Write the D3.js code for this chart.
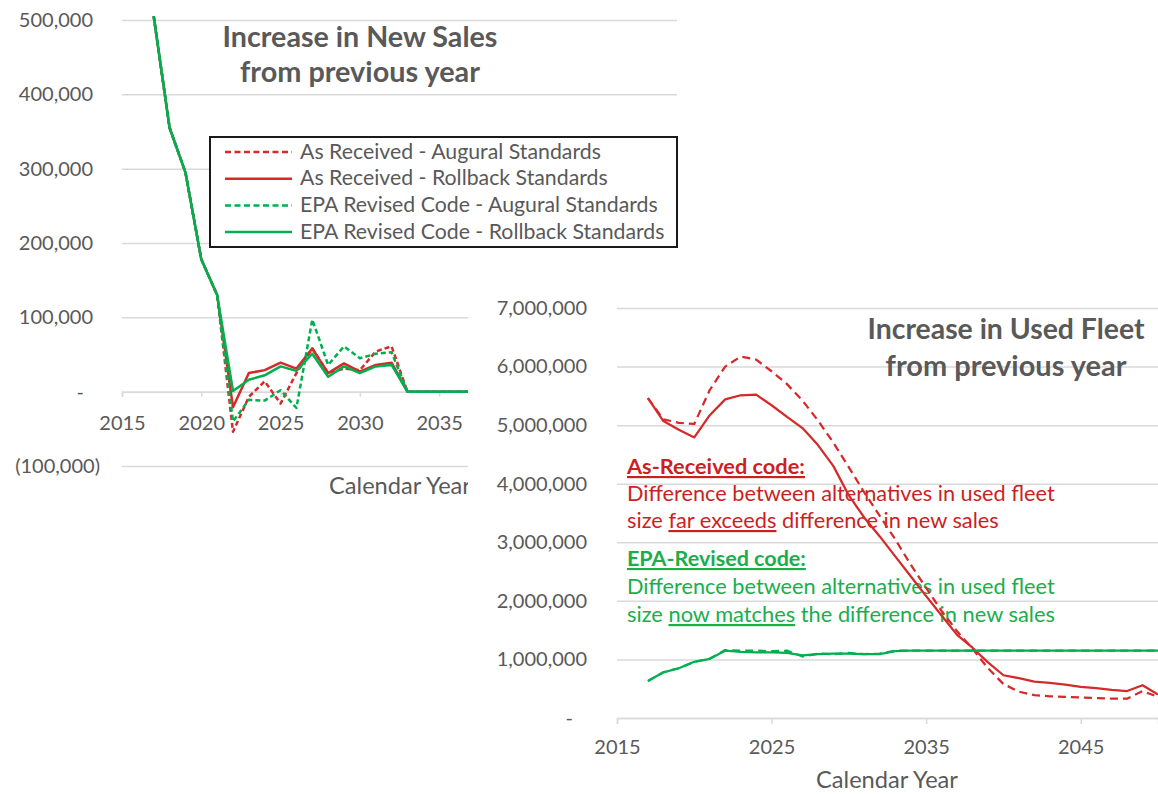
<!DOCTYPE html>
<html><head><meta charset="utf-8">
<script src="https://cdn.jsdelivr.net/npm/d3@7/dist/d3.min.js"></script>
<style>
body{margin:0;background:#fff;}
svg{display:block;font-family:Lato,"Open Sans",sans-serif;}
</style></head><body>
<svg id="c" width="1158" height="794"></svg>
<script>
// ---------------- DATA ----------------
const years = [2017,2018,2019,2020,2021,2022,2023,2024,2025,2026,2027,2028,2029,2030,2031,2032,2033,
  2034,2035,2036,2037,2038,2039,2040,2041,2042,2043,2044,2045,2046,2047,2048,2049,2050];

const seriesNames = ["As Received - Augural Standards","As Received - Rollback Standards",
  "EPA Revised Code - Augural Standards","EPA Revised Code - Rollback Standards"];

// Increase in New Sales from previous year
const salesARAugural = [505000,355000,295000,178000,130000,-54000,-7000,14000,-16000,25000,58000,25000,31000,29000,54000,61000,0,
  0,0,0,0,0,0,0,0,0,0,0,0,0,0,0,0,0];
const salesARRollback = [505000,355000,295000,178000,130000,-21000,25000,29000,39000,31000,58000,25000,38000,27000,36000,39000,0,
  0,0,0,0,0,0,0,0,0,0,0,0,0,0,0,0,0];
const salesEPAAugural = [505000,355000,295000,178000,130000,-40000,-11000,-12000,2000,-22000,97000,36000,61000,45000,51000,53000,0,
  0,0,0,0,0,0,0,0,0,0,0,0,0,0,0,0,0];
const salesEPARollback = [505000,355000,295000,178000,130000,1000,16000,22000,34000,28000,51000,20000,34000,25000,34000,36000,0,
  0,0,0,0,0,0,0,0,0,0,0,0,0,0,0,0,0];

// Increase in Used Fleet from previous year
const fleetARAugural = [5460000,5100000,5040000,5020000,5600000,6000000,6170000,6120000,5920000,5700000,5420000,5080000,4700000,
  4280000,3850000,3450000,3050000,2620000,2220000,1830000,1480000,1180000,850000,580000,450000,390000,370000,360000,350000,
  340000,330000,330000,460000,360000];
const fleetARRollback = [5460000,5070000,4920000,4790000,5170000,5440000,5510000,5520000,5340000,5140000,4950000,4660000,4300000,
  3800000,3420000,3100000,2760000,2420000,2080000,1750000,1420000,1200000,950000,730000,680000,620000,600000,570000,530000,
  510000,480000,460000,560000,400000];
const fleetEPAAugural = [630000,780000,850000,960000,1010000,1160000,1150000,1150000,1140000,1150000,1050000,1100000,1090000,
  1110000,1090000,1100000,1150000,1150000,1150000,1150000,1150000,1150000,1150000,1150000,1150000,1150000,1150000,1150000,
  1150000,1150000,1150000,1150000,1150000,1150000];
const fleetEPARollback = [630000,780000,850000,960000,1010000,1150000,1130000,1120000,1120000,1110000,1070000,1090000,1100000,
  1100000,1090000,1090000,1140000,1150000,1150000,1150000,1150000,1150000,1150000,1150000,1150000,1150000,1150000,1150000,
  1150000,1150000,1150000,1150000,1150000,1150000];

const salesYTicks = [-100000,0,100000,200000,300000,400000,500000];
const salesXTicks = [2015,2020,2025,2030,2035];
const fleetYTicks = [0,1000000,2000000,3000000,4000000,5000000,6000000,7000000];
const fleetXTicks = [2015,2025,2035,2045];

// ---------------- STYLE ----------------
const RED = "#d42a2a", GREEN = "#00b050", GRAY = "#595959", GRID = "#d9d9d9";
const TXTRED = "#cc1f1f", TXTGREEN = "#1aae4c";
const svg = d3.select("#c");

function fit(sel, w){
  const m = sel.node().getComputedTextLength();
  const cur = parseFloat(sel.attr("font-size"));
  sel.attr("font-size", cur*w/m);
  return sel;
}
const acct = v => v < 0 ? "(" + d3.format(",")(-v) + ")" : v === 0 ? "-" : d3.format(",")(v);

// ---------------- LEFT CHART ----------------
const xL = d3.scaleLinear().domain([2015,2050]).range([122,677]);
const yL = d3.scaleLinear().domain([-100000,500000]).range([466,20]);
const gL = svg.append("g");

const yAxL = gL.append("g").attr("transform",`translate(${xL(2015)},0)`)
  .call(d3.axisLeft(yL).tickValues(salesYTicks).tickFormat(acct)
    .tickSize(-(xL(2050)-xL(2015))).tickPadding(29));
yAxL.select(".domain").remove();
yAxL.selectAll("line").attr("stroke",GRID).attr("stroke-width",1.5);
yAxL.selectAll("text").attr("fill",GRAY).attr("font-size",20).attr("font-family","Lato")
  .attr("dx", d => d < 0 ? 7 : d === 0 ? -9 : 0);

const xAxL = gL.append("g").attr("transform",`translate(0,${yL(0)})`)
  .call(d3.axisBottom(xL).tickValues(salesXTicks).tickFormat(d3.format("d")).tickSize(5).tickPadding(19));
xAxL.select(".domain").attr("stroke",GRID).attr("stroke-width",1.5);
xAxL.selectAll("line").attr("stroke",GRID).attr("stroke-width",1.5);
xAxL.selectAll("text").attr("fill",GRAY).attr("font-size",20).attr("font-family","Lato");

const lineL = d3.line().x((d,i)=>xL(years[i])).y(d=>yL(d));
const leftSeries = [
  {v:salesARAugural, c:RED, dash:"5,3"},
  {v:salesARRollback, c:RED, dash:null},
  {v:salesEPAAugural, c:GREEN, dash:"5,3"},
  {v:salesEPARollback, c:GREEN, dash:null}
];
leftSeries.forEach(s=>{
  gL.append("path").attr("d",lineL(s.v)).attr("fill","none").attr("stroke",s.c)
    .attr("stroke-width",2.5).attr("stroke-dasharray",s.dash).attr("stroke-linejoin","round");
});

// Left title
fit(gL.append("text").attr("x",360).attr("y",47).attr("text-anchor","middle").attr("font-weight","bold")
  .attr("font-size",24).attr("fill",GRAY).text("Increase in New Sales"), 275);
fit(gL.append("text").attr("x",360).attr("y",82).attr("text-anchor","middle").attr("font-weight","bold")
  .attr("font-size",24).attr("fill",GRAY).text("from previous year"), 240);

// Left x title
fit(gL.append("text").attr("x",400).attr("y",494).attr("text-anchor","middle")
  .attr("font-size",20).attr("fill",GRAY).text("Calendar Year"), 142);

// Legend
const lg = gL.append("g");
lg.append("rect").attr("x",210).attr("y",137).attr("width",467).attr("height",110)
  .attr("fill","#fff").attr("stroke","#1a1a1a").attr("stroke-width",2);
const legendStyles = [
  {c:RED, dash:"6,3.5"},{c:RED, dash:null},{c:GREEN, dash:"6,3.5"},{c:GREEN, dash:null}
];
seriesNames.forEach((n,i)=>{
  const y = 152 + i*26.7;
  lg.append("line").attr("x1",225).attr("x2",292).attr("y1",y).attr("y2",y)
    .attr("stroke",legendStyles[i].c).attr("stroke-width",2.5).attr("stroke-dasharray",legendStyles[i].dash);
  const t = lg.append("text").attr("x",300).attr("y",y+6.5).attr("font-size",18).attr("fill",GRAY).text(n);
  if(i===0) fit(t,301);
});
const lfs = lg.select("text").attr("font-size");
lg.selectAll("text").attr("font-size",lfs);

// ---------------- RIGHT CHART ----------------
const xR = d3.scaleLinear().domain([2015,2050]).range([617,1158]);
const yR = d3.scaleLinear().domain([0,7000000]).range([718,308]);
const gR = svg.append("g");
gR.append("rect").attr("x",468).attr("y",282).attr("width",690).attr("height",512).attr("fill","#fff");

const yAxR = gR.append("g").attr("transform",`translate(${xR(2015)},0)`)
  .call(d3.axisLeft(yR).tickValues(fleetYTicks).tickFormat(acct)
    .tickSize(-(xR(2050)-xR(2015))).tickPadding(30));
yAxR.select(".domain").remove();
yAxR.selectAll("line").attr("stroke",GRID).attr("stroke-width",1.5);
yAxR.selectAll("text").attr("fill",GRAY).attr("font-size",20).attr("font-family","Lato")
  .attr("dx", d => d === 0 ? -14 : 0);

const xAxR = gR.append("g").attr("transform",`translate(0,${yR(0)})`)
  .call(d3.axisBottom(xR).tickValues(fleetXTicks).tickFormat(d3.format("d")).tickSize(6).tickPadding(16));
xAxR.select(".domain").attr("stroke",GRID).attr("stroke-width",1.5);
xAxR.selectAll("line").attr("stroke",GRID).attr("stroke-width",1.5);
xAxR.selectAll("text").attr("fill",GRAY).attr("font-size",20).attr("font-family","Lato");

fit(gR.append("text").attr("x",887).attr("y",788).attr("text-anchor","middle")
  .attr("font-size",20).attr("fill",GRAY).text("Calendar Year"), 142);

// Right title
fit(gR.append("text").attr("x",1006).attr("y",339).attr("text-anchor","middle").attr("font-weight","bold")
  .attr("font-size",24).attr("fill",GRAY).text("Increase in Used Fleet"), 277);
fit(gR.append("text").attr("x",1006).attr("y",376).attr("text-anchor","middle").attr("font-weight","bold")
  .attr("font-size",24).attr("fill",GRAY).text("from previous year"), 241);

// Annotations
function annot(y, parts, color, bold, w){
  const t = gR.append("text").attr("x",627).attr("y",y).attr("font-size",18).attr("fill",color)
    .attr("font-weight", bold ? "bold" : null);
  parts.forEach(p=>{
    const ts = t.append("tspan").text(p.t);
    if(p.u) ts.style("text-decoration","underline");
  });
  fit(t, w);
  return t;
}
annot(474, [{t:"As-Received code:",u:true}], TXTRED, true, 178);
annot(501, [{t:"Difference between alternatives in used fleet"}], TXTRED, false, 428);
annot(528, [{t:"size "},{t:"far exceeds",u:true},{t:" difference in new sales"}], TXTRED, false, 372);
annot(566, [{t:"EPA-Revised code:",u:true}], TXTGREEN, true, 179);
annot(594, [{t:"Difference between alternatives in used fleet"}], TXTGREEN, false, 428);
annot(622, [{t:"size "},{t:"now matches",u:true},{t:" the difference in new sales"}], TXTGREEN, false, 428);

const lineR = d3.line().x((d,i)=>xR(years[i])).y(d=>yR(d));
const rightSeries = [
  {v:fleetARAugural, c:RED, dash:"8,5"},
  {v:fleetARRollback, c:RED, dash:null},
  {v:fleetEPAAugural, c:GREEN, dash:"8,5"},
  {v:fleetEPARollback, c:GREEN, dash:null}
];
rightSeries.forEach(s=>{
  gR.append("path").attr("d",lineR(s.v)).attr("fill","none").attr("stroke",s.c)
    .attr("stroke-width",2.25).attr("stroke-dasharray",s.dash).attr("stroke-linejoin","round");
});
</script>
</body></html>
